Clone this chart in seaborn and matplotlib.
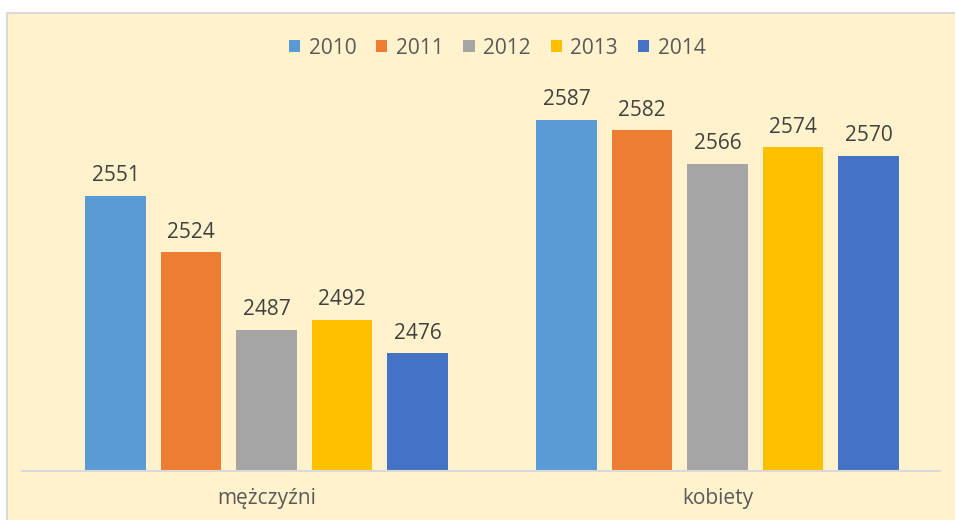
import matplotlib
matplotlib.use("Agg")
import matplotlib.pyplot as plt
import pandas as pd
import seaborn as sns
from matplotlib.patches import Rectangle

# dane
groups = ["mężczyźni", "kobiety"]
years = ["2010", "2011", "2012", "2013", "2014"]
men = [2551, 2524, 2487, 2492, 2476]
women = [2587, 2582, 2566, 2574, 2570]
colors = ["#5B9BD5", "#ED7D31", "#A5A5A5", "#FFC000", "#4472C4"]

df = pd.DataFrame({
    "grupa": [groups[0]] * len(years) + [groups[1]] * len(years),
    "rok": years + years,
    "wartosc": men + women,
})

sns.set_theme(style="white")
plt.rcParams["font.family"] = ["Open Sans", "DejaVu Sans"]

W, H = 955, 520
fig = plt.figure(figsize=(W / 100, H / 100), dpi=100)
fig.patch.set_facecolor("white")

# tło wykresu (kremowe pole z szarą ramką)
fig.patches.append(Rectangle((7 / W, -0.01), (W - 6) / W, (H - 13) / H + 0.01,
                             transform=fig.transFigure, facecolor="#FFF2CC",
                             edgecolor="#D9D9D9", linewidth=1.5, zorder=-10))

ax = fig.add_axes([22 / W, 1 - 471 / H, (940 - 22) / W, (471 - 80) / H])
ax.set_facecolor("none")

sns.barplot(data=df, x="grupa", y="wartosc", hue="rok", palette=colors,
            width=0.837, gap=0.2, ax=ax, saturation=1, errorbar=None,
            linewidth=0)

ax.set_ylim(2420, 2606)
ax.set_xlim(-0.542, 1.493)

for c in ax.containers:
    ax.bar_label(c, padding=7, fontsize=15, color="#404040")

for s in ["top", "right", "left"]:
    ax.spines[s].set_visible(False)
ax.spines["bottom"].set_color("#D9D9D9")
ax.spines["bottom"].set_linewidth(1.5)
ax.set_yticks([])
ax.set_xlabel("")
ax.set_ylabel("")
ax.tick_params(axis="x", length=0, pad=12, labelsize=15, labelcolor="#595959")

handles, labels = ax.get_legend_handles_labels()
ax.get_legend().remove()
fig.legend(handles, labels, loc="center", bbox_to_anchor=(497 / W, 1 - 48 / H),
           ncol=5, frameon=False, fontsize=15, labelcolor="#595959",
           handlelength=0.55, handleheight=0.55, handletextpad=0.4,
           columnspacing=0.95)

fig.savefig("out.png", dpi=100, facecolor=fig.get_facecolor())
